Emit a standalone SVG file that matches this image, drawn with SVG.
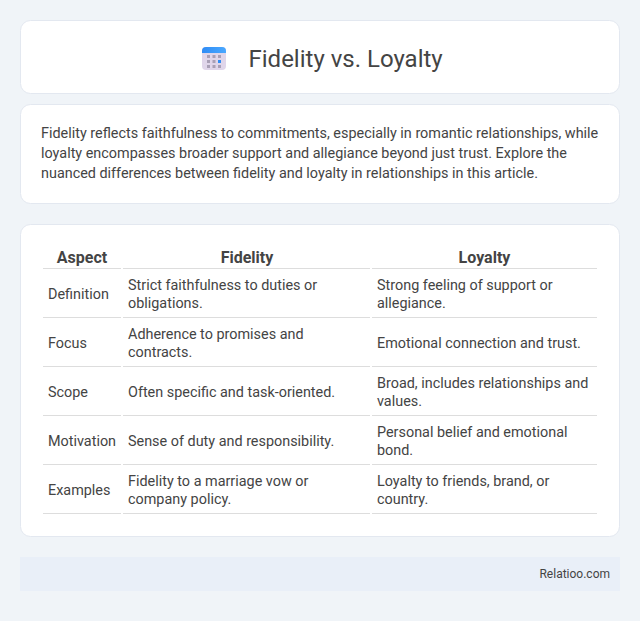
<svg xmlns="http://www.w3.org/2000/svg" width="640" height="621" viewBox="0 0 640 621">
<defs>
<linearGradient id="top" x1="0" y1="0" x2="1" y2="0"><stop offset="0" stop-color="#2f8cf5"/><stop offset="1" stop-color="#4aa8ff"/></linearGradient>
</defs>
<style>
text{font-family:Roboto,"Liberation Sans",sans-serif;fill:#444}
.card{fill:#fff;stroke:#e3e8f0;stroke-width:1}
.b{font-size:14.400px}
.t{font-size:14.400px}
.h{font-size:16px;font-weight:700;text-anchor:middle}
.r{stroke:#ddd;stroke-width:1;fill:none}
.d{fill:#a9a0b6}
</style>
<rect width="640" height="621" fill="#f0f4f8"/>
<g id="title">
<rect class="card" x="20.5" y="20.5" width="599" height="73" rx="10"/>
<rect x="202" y="47" width="24" height="23" rx="4" fill="#e0d6ea"/>
<path d="M202 53V51A4 4 0 0 1 206 47H222A4 4 0 0 1 226 51V53Z" fill="url(#top)"/>
<g class="d"><rect x="207" y="55" width="3" height="3"/><rect x="212.500" y="55" width="3" height="3"/><rect x="218" y="55" width="3" height="3"/><rect x="207" y="60" width="3" height="3"/><rect x="212.500" y="60" width="3" height="3"/><rect x="218" y="60" width="3" height="3" style="fill:#2f8cf5"/><rect x="207" y="65" width="3" height="3"/><rect x="212.500" y="65" width="3" height="3"/><rect x="218" y="65" width="3" height="3"/></g>
<text x="248.500" y="67" font-size="24">Fidelity vs. Loyalty</text>
</g>
<g id="intro">
<rect class="card" x="20.5" y="104.500" width="599" height="99" rx="10"/>
<text class="b" x="41" y="138">Fidelity reflects faithfulness to commitments, especially in romantic relationships, while</text>
<text class="b" x="41" y="158">loyalty encompasses broader support and allegiance beyond just trust. Explore the</text>
<text class="b" x="41" y="178">nuanced differences between fidelity and loyalty in relationships in this article.</text>
</g>
<g id="table">
<rect class="card" x="20.5" y="224.500" width="599" height="312" rx="10"/>
<text class="h" x="82" y="263">Aspect</text><text class="h" x="247" y="263">Fidelity</text><text class="h" x="484.500" y="263">Loyalty</text>
<path class="r" d="M43 268.500H121M123 268.500H370M372 268.500H597M43 317.500H121M123 317.500H370M372 317.500H597M43 366.500H121M123 366.500H370M372 366.500H597M43 415.500H121M123 415.500H370M372 415.500H597M43 464.500H121M123 464.500H370M372 464.500H597M43 513.500H121M123 513.500H370M372 513.500H597"/>
<text class="t" x="48" y="299">Definition</text><text class="t" x="128" y="290">Strict faithfulness to duties or</text><text class="t" x="128" y="308">obligations.</text><text class="t" x="377" y="290">Strong feeling of support or</text><text class="t" x="377" y="308">allegiance.</text>
<text class="t" x="48" y="348">Focus</text><text class="t" x="128" y="339">Adherence to promises and</text><text class="t" x="128" y="357">contracts.</text><text class="t" x="377" y="348">Emotional connection and trust.</text>
<text class="t" x="48" y="397">Scope</text><text class="t" x="128" y="397">Often specific and task-oriented.</text><text class="t" x="377" y="388">Broad, includes relationships and</text><text class="t" x="377" y="406">values.</text>
<text class="t" x="48" y="446">Motivation</text><text class="t" x="128" y="446">Sense of duty and responsibility.</text><text class="t" x="377" y="437">Personal belief and emotional</text><text class="t" x="377" y="455">bond.</text>
<text class="t" x="48" y="495">Examples</text><text class="t" x="128" y="486">Fidelity to a marriage vow or</text><text class="t" x="128" y="504">company policy.</text><text class="t" x="377" y="486">Loyalty to friends, brand, or</text><text class="t" x="377" y="504">country.</text>
</g>
<g id="footer">
<rect x="20" y="557" width="600" height="34" fill="#e9eff8"/>
<text x="610" y="578" font-size="12" text-anchor="end">Relatioo.com</text>
</g>
</svg>
